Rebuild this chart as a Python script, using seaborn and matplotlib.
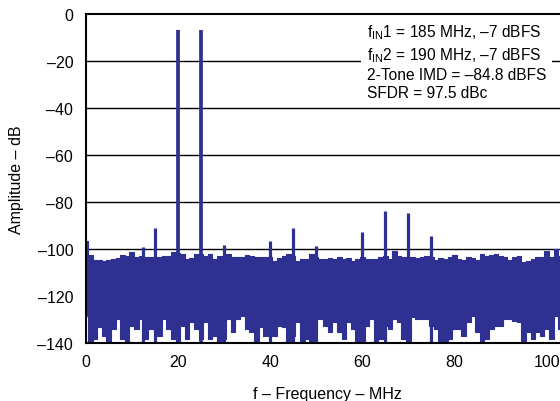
import numpy as np
import pandas as pd
import matplotlib
matplotlib.use("Agg")
import matplotlib.pyplot as plt
import seaborn as sns

# Datos (FFT de dos tonos)
freq_mhz = list(range(0, 106))

ruido_sup = [
    -96.5, -102.5, -104.5, -104.5, -105.0, -104.5, -104.3, -104.0, -102.6, -103.0,
    -101.1, -103.5, -102.8, -103.5, -103.5, -103.5, -103.5, -102.8, -103.1, -101.4,
    -101.5, -102.1, -104.3, -104.0, -102.1, -102.0, -102.8, -102.1, -104.3, -102.8,
    -103.0, -102.1, -103.5, -103.5, -103.5, -102.5, -102.8, -103.5, -103.5, -103.5,
    -103.5, -105.0, -104.0, -102.8, -102.1, -103.0, -105.0, -104.3, -104.3, -102.1,
    -103.5, -104.3, -104.3, -104.0, -104.3, -103.5, -104.3, -104.0, -105.0, -104.3,
    -103.5, -104.3, -104.3, -104.3, -103.5, -103.0, -104.3, -101.0, -102.8, -103.5,
    -103.5, -103.5, -104.0, -103.5, -102.8, -103.5, -104.5, -104.0, -104.3, -103.5,
    -102.5, -104.3, -104.5, -103.5, -104.0, -104.5, -102.1, -103.1, -102.5, -102.1,
    -102.8, -103.5, -104.5, -103.5, -102.8, -105.7, -105.0, -104.3, -103.5, -103.5,
    -100.7, -103.5, -99.9, -103.0, -103.5, -103.0,
]

ruido_inf = [
    -128.4, -139.7, -138.3, -133.3, -136.9, -139.7, -134.0, -129.8, -138.3, -139.7,
    -132.6, -134.0, -129.8, -138.3, -134.0, -131.2, -136.9, -129.8, -134.0, -138.3,
    -139.7, -132.6, -138.3, -131.2, -134.0, -138.3, -131.2, -138.3, -136.9, -139.7,
    -138.3, -129.8, -135.5, -129.8, -128.4, -134.0, -135.5, -139.0, -133.3, -136.9,
    -131.9, -136.9, -132.6, -133.3, -139.7, -136.9, -131.2, -139.7, -138.3, -139.7,
    -129.8, -129.8, -132.6, -135.5, -131.2, -135.5, -138.3, -131.2, -134.0, -139.7,
    -139.7, -132.6, -129.8, -139.7, -138.3, -132.6, -134.0, -129.8, -131.2, -138.3,
    -139.7, -129.1, -129.8, -129.8, -129.8, -132.6, -134.0, -139.7, -139.7, -138.3,
    -134.0, -134.0, -136.9, -131.2, -128.4, -135.5, -139.7, -138.3, -134.0, -132.6,
    -132.6, -129.8, -129.8, -130.5, -131.2, -139.7, -135.5, -138.3, -135.5, -136.9,
    -134.0, -138.3, -128.4, -134.0, -136.0, -132.0,
]

# Espurios y tonos principales
espurio_freq = [12.5, 15, 30, 40, 45, 50, 60, 65, 70, 75]
espurio_db = [-99.3, -91.2, -98.3, -96.5, -91.2, -98.9, -92.9, -83.7, -84.7, -94.6]
tono_freq = [20, 25]
tono_db = [-7, -7]

y_ticks = [0, -20, -40, -60, -80, -100, -120, -140]
x_ticks = [0, 20, 40, 60, 80, 100]

AZUL = "#2E3192"

sns.set_theme(style="white")
plt.rcParams["font.family"] = ["Liberation Sans", "DejaVu Sans"]
plt.rcParams["mathtext.fontset"] = "custom"
plt.rcParams["mathtext.rm"] = "Liberation Sans"
plt.rcParams["mathtext.it"] = "Liberation Sans:italic"
for clave in ["text.color", "axes.labelcolor", "xtick.color", "ytick.color"]:
    plt.rcParams[clave] = "black"

df = pd.DataFrame({"freq": freq_mhz, "sup": ruido_sup, "inf": ruido_inf})

fig = plt.figure(figsize=(5.6, 4.02), dpi=100)
ax = fig.add_axes([0.153, 0.1443, 0.8643, 0.8184])

# lineas de cuadricula horizontales
for yv in y_ticks[1:-1]:
    ax.axhline(yv, color="black", lw=1.0, zorder=0.5)

# piso de ruido
ax.fill_between(df["freq"], df["inf"], df["sup"], step="mid", color=AZUL, lw=0, zorder=2)
sns.lineplot(data=df, x="freq", y="sup", drawstyle="steps-mid", color=AZUL, lw=0.8, ax=ax, zorder=2)
sns.lineplot(data=df, x="freq", y="inf", drawstyle="steps-mid", color=AZUL, lw=0.8, ax=ax, zorder=2)

# espurios y tonos
ax.vlines(espurio_freq, -140, espurio_db, color=AZUL, lw=2.3, zorder=3)
ax.vlines(tono_freq, -140, tono_db, color=AZUL, lw=2.7, zorder=3)

ax.set_xlim(0, 105)
ax.set_ylim(-140, 0)
ax.set_xticks(x_ticks)
ax.set_yticks(y_ticks)
ax.set_xticklabels([str(v) for v in x_ticks])
ax.set_yticklabels([str(v).replace("-", "\u2013") for v in y_ticks])
ax.tick_params(axis="x", direction="in", length=7, width=1.2, color="black",
               labelsize=11.5, pad=8)
ax.tick_params(axis="y", length=0, labelsize=11.5, pad=9)

for lado in ["left", "top", "bottom"]:
    ax.spines[lado].set_color("black")
    ax.spines[lado].set_linewidth(1.5)
    ax.spines[lado].set_zorder(5)
ax.spines["right"].set_visible(False)

ax.set_xlabel("f \u2013 Frequency \u2013 MHz", fontsize=11.5, labelpad=12)
ax.set_ylabel("Amplitude \u2013 dB", fontsize=11.5, labelpad=10)

texto = ("f$_{\\mathrm{IN}}$1 = 185 MHz, \u20137 dBFS\n"
         "f$_{\\mathrm{IN}}$2 = 190 MHz, \u20137 dBFS\n"
         "2-Tone IMD = \u201384.8 dBFS\n"
         "SFDR = 97.5 dBc")
ax.text(61.0, -3.6, texto, fontsize=11.2, va="top", ha="left", linespacing=1.27,
        bbox=dict(boxstyle="square,pad=0.35", facecolor="white", edgecolor="none"),
        zorder=4)

fig.savefig("out.png", dpi=100)
